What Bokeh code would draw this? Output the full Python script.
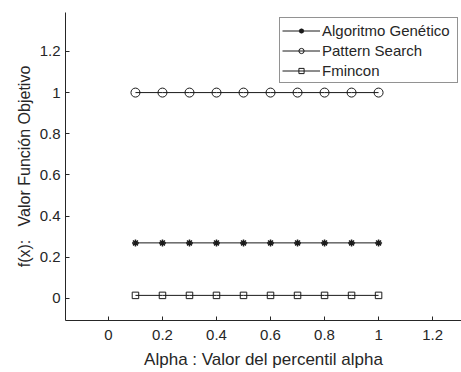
from bokeh.plotting import figure
from bokeh.models import Legend, LegendItem, FixedTicker, Range1d
from bokeh.embed import file_html
from bokeh.resources import INLINE

alpha = [0.1, 0.2, 0.3, 0.4, 0.5, 0.6, 0.7, 0.8, 0.9, 1.0]
ga = [0.27] * 10
ps = [1.0] * 10
fmincon = [0.015] * 10

x_ticks = [0, 0.2, 0.4, 0.6, 0.8, 1.0, 1.2]
y_ticks = [0, 0.2, 0.4, 0.6, 0.8, 1.0, 1.2]
tick_labels = {0: "0", 0.2: "0.2", 0.4: "0.4", 0.6: "0.6", 0.8: "0.8", 1.0: "1", 1.2: "1.2"}

FONT = "Liberation Sans"
TXT = "#262626"
LINE = "#1a1a1a"

p = figure(width=461, height=372, output_backend="svg", toolbar_location=None,
           x_range=Range1d(-0.159, 1.307), y_range=Range1d(-0.107, 1.389),
           min_border_left=65, min_border_right=0, min_border_top=12, min_border_bottom=52)
p.outline_line_color = None
p.grid.visible = False
p.background_fill_color = "white"
p.border_fill_color = "white"

for ax in (p.xaxis[0], p.yaxis[0]):
    ax.axis_line_color = TXT
    ax.major_tick_line_color = TXT
    ax.major_tick_in = 4
    ax.major_tick_out = 0
    ax.minor_tick_line_color = None
    ax.major_label_text_font = FONT
    ax.major_label_text_font_size = "15px"
    ax.major_label_text_color = TXT
    ax.axis_label_text_font = FONT
    ax.axis_label_text_font_size = "16px"
    ax.axis_label_text_font_style = "normal"
    ax.axis_label_text_color = TXT

p.xaxis.axis_label_text_font_size = "17px"
p.xaxis.ticker = FixedTicker(ticks=x_ticks)
p.yaxis.ticker = FixedTicker(ticks=y_ticks)
p.xaxis.major_label_overrides = tick_labels
p.yaxis.major_label_overrides = tick_labels
p.xaxis.major_label_standoff = 9
p.xaxis.axis_label_standoff = 7
p.yaxis.major_label_standoff = 5
p.yaxis.axis_label_standoff = 4
p.xaxis.axis_label = "Alpha : Valor del percentil alpha"
p.yaxis.axis_label = "f(x):\u00a0\u00a0\u00a0Valor Función Objetivo"

l1 = p.line(alpha, ga, line_color=LINE, line_width=1)
m1 = p.scatter(alpha, ga, marker="asterisk", size=7, line_color=LINE, line_width=1.5)
l2 = p.line(alpha, ps, line_color=LINE, line_width=1)
m2 = p.scatter(alpha, ps, marker="circle", size=9, line_color=LINE, fill_color=None, line_width=1)
l3 = p.line(alpha, fmincon, line_color=LINE, line_width=1)
m3 = p.scatter(alpha, fmincon, marker="square", size=6.5, line_color=LINE, fill_color=None, line_width=1)

legend = Legend(items=[
    LegendItem(label="Algoritmo Genético", renderers=[l1, m1]),
    LegendItem(label="Pattern Search", renderers=[l2, m2]),
    LegendItem(label="Fmincon", renderers=[l3, m3]),
], location=(214, 237))
legend.padding = 2
legend.spacing = 0
legend.margin = 0
legend.glyph_width = 38
legend.glyph_height = 13
legend.label_height = 20
legend.label_standoff = 2
legend.label_width = 133
legend.label_text_font = FONT
legend.label_text_font_size = "15px"
legend.label_text_color = TXT
legend.border_line_color = TXT
legend.border_line_width = 1
legend.background_fill_color = "white"
legend.background_fill_alpha = 1
p.add_layout(legend)

open("out.html", "w").write(file_html(p, INLINE))
